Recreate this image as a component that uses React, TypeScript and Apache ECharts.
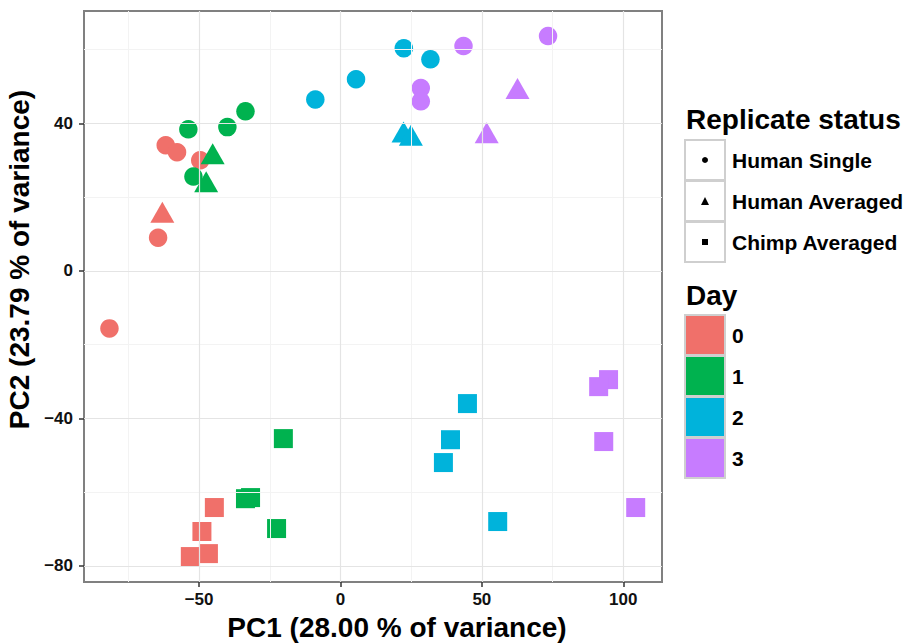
import React, { useEffect, useRef } from "react";
import * as echarts from "echarts";

const days = ["0", "1", "2", "3"];
const dayColors = ["#F0706A", "#00B24F", "#00B3DB", "#C77CFF"];
const shapes = ["Human Single", "Human Averaged", "Chimp Averaged"];

// [PC1, PC2]
const day0Single = [[-61.8, 34.1], [-57.8, 32.2], [-49.6, 30.0], [-64.5, 9.0], [-81.7, -15.6]];
const day0HumanAvg = [[-63.0, 15.9]];
const day0Chimp = [[-44.6, -64.2], [-49.0, -70.7], [-53.1, -77.5], [-46.7, -76.7]];

const day1Single = [[-53.8, 38.4], [-40.0, 39.0], [-33.6, 43.3], [-52.0, 25.6]];
const day1HumanAvg = [[-45.2, 31.8], [-47.5, 24.2]];
const day1Chimp = [[-20.2, -45.5], [-33.6, -61.8], [-31.8, -61.5], [-22.6, -69.9]];

const day2Single = [[-8.9, 46.5], [5.5, 52.0], [22.4, 60.4], [31.8, 57.4]];
const day2HumanAvg = [[22.3, 37.7], [24.9, 36.8]];
const day2Chimp = [[44.9, -36.0], [38.9, -45.8], [36.4, -52.0], [55.6, -68.0]];

const day3Single = [[43.5, 61.0], [73.4, 63.7], [28.4, 49.6], [28.4, 46.0]];
const day3HumanAvg = [[62.6, 49.5], [51.7, 37.5]];
const day3Chimp = [[94.8, -29.5], [91.3, -31.4], [93.1, -46.3], [104.4, -64.2]];

const singleByDay = [day0Single, day1Single, day2Single, day3Single];
const humanAvgByDay = [day0HumanAvg, day1HumanAvg, day2HumanAvg, day3HumanAvg];
const chimpByDay = [day0Chimp, day1Chimp, day2Chimp, day3Chimp];

const xMajor = [-50, 0, 50, 100];
const xMinor = [-75, -25, 25, 75];
const yMajor = [-80, -40, 0, 40];
const yMinor = [-60, -20, 20, 60];

const xTitle = "PC1 (28.00 % of variance)";
const yTitle = "PC2 (23.79 % of variance)";

const FONT = "'Liberation Sans', Arial, Helvetica, sans-serif";

export default function App() {
  const ref = useRef<HTMLDivElement>(null);
  useEffect(() => {
    if (!ref.current) return;
    const chart = echarts.init(ref.current, undefined, { renderer: "svg" });

    const series: any[] = [];
    const gridLine = (arr: number[], axis: "xAxis" | "yAxis", color: string, width: number) =>
      arr.map((v) => ({ [axis]: v, lineStyle: { color, width, type: "solid" } }));

    series.push({
      type: "scatter",
      data: [[0, 0]],
      symbolSize: 0,
      silent: true,
      z: 1,
      markLine: {
        silent: true,
        symbol: ["none", "none"],
        label: { show: false },
        emphasis: { disabled: true },
        data: [
          ...gridLine(xMinor, "xAxis", "#F3F3F3", 1),
          ...gridLine(yMinor, "yAxis", "#F3F3F3", 1),
          ...gridLine(xMajor, "xAxis", "#E4E4E4", 1.2),
          ...gridLine(yMajor, "yAxis", "#E4E4E4", 1.2),
        ],
      },
    });

    days.forEach((d, i) => {
      series.push({
        name: `Day ${d} ${shapes[0]}`,
        type: "scatter",
        data: singleByDay[i],
        symbol: "circle",
        symbolSize: 18.5,
        itemStyle: { color: dayColors[i], opacity: 1 },
        z: 3,
      });
      series.push({
        name: `Day ${d} ${shapes[1]}`,
        type: "scatter",
        data: humanAvgByDay[i],
        symbol: "triangle",
        symbolSize: [24, 21],
        itemStyle: { color: dayColors[i], opacity: 1 },
        z: 3,
      });
      series.push({
        name: `Day ${d} ${shapes[2]}`,
        type: "scatter",
        data: chimpByDay[i],
        symbol: "rect",
        symbolSize: 19,
        itemStyle: { color: dayColors[i], opacity: 1 },
        z: 3,
      });
    });

    const graphic: any[] = [];
    graphic.push({
      type: "text",
      left: 686,
      top: 105,
      style: { text: "Replicate status", font: `bold 28px ${FONT}`, fill: "#000" },
    });
    const keyShapes = [
      { type: "circle", shape: { cx: 705, cy: 160, r: 3 }, style: { fill: "#000" } },
      { type: "polygon", shape: { points: [[705, 197], [709, 205], [701, 205]] }, style: { fill: "#000" } },
      { type: "rect", shape: { x: 702, y: 239, width: 6, height: 6 }, style: { fill: "#000" } },
    ];
    shapes.forEach((s, i) => {
      const y = 140 + i * 41;
      graphic.push({
        type: "rect",
        shape: { x: 685, y, width: 40, height: 40 },
        style: { fill: "#fff", stroke: "#CFCFCF", lineWidth: 2 },
      });
      graphic.push(keyShapes[i]);
      graphic.push({
        type: "text",
        x: 732,
        y: y + 20,
        style: { text: s, font: `bold 21px ${FONT}`, fill: "#000", verticalAlign: "middle" },
      });
    });
    graphic.push({
      type: "text",
      left: 686,
      top: 281,
      style: { text: "Day", font: `bold 28px ${FONT}`, fill: "#000" },
    });
    days.forEach((d, i) => {
      const y = 315 + i * 41;
      graphic.push({
        type: "rect",
        shape: { x: 685, y, width: 40, height: 40 },
        style: { fill: dayColors[i], stroke: "#CFCFCF", lineWidth: 2 },
      });
      graphic.push({
        type: "text",
        x: 732,
        y: y + 20,
        style: { text: d, font: `bold 21px ${FONT}`, fill: "#000", verticalAlign: "middle" },
      });
    });

    chart.setOption({
      animation: false,
      backgroundColor: "#fff",
      grid: {
        left: 84,
        right: 248,
        top: 11,
        bottom: 61,
        outerBoundsMode: "none",
        containLabel: false,
        show: true,
        borderColor: "#808080",
        borderWidth: 2,
        backgroundColor: "#fff",
        z: 0,
      },
      xAxis: {
        type: "value",
        min: -90.7,
        max: 113.7,
        position: "bottom",
        name: xTitle,
        nameLocation: "middle",
        nameGap: 31,
        nameTextStyle: {
          fontFamily: FONT,
          fontWeight: "bold",
          fontSize: 28,
          color: "#000",
          padding: [0, 0, 0, 48],
        },
        axisLine: { show: false, onZero: false },
        splitLine: { show: false },
        axisTick: {
          show: true,
          customValues: xMajor,
          length: 5,
          lineStyle: { color: "#333", width: 1.5 },
        },
        axisLabel: {
          customValues: xMajor,
          margin: 9,
          fontFamily: FONT,
          fontWeight: "bold",
          fontSize: 17,
          color: "#111",
          formatter: (v: number) => (v < 0 ? "\u2212" + Math.abs(v) : String(v)),
        },
      },
      yAxis: {
        type: "value",
        min: -84.4,
        max: 70.5,
        position: "left",
        name: yTitle,
        nameLocation: "middle",
        nameGap: 38,
        nameTextStyle: {
          fontFamily: FONT,
          fontWeight: "bold",
          fontSize: 28,
          color: "#000",
          padding: [0, 0, 0, 74],
        },
        axisLine: { show: false, onZero: false },
        splitLine: { show: false },
        axisTick: {
          show: true,
          customValues: yMajor,
          length: 5,
          lineStyle: { color: "#333", width: 1.5 },
        },
        axisLabel: {
          customValues: yMajor,
          margin: 11,
          fontFamily: FONT,
          fontWeight: "bold",
          fontSize: 17,
          color: "#111",
          formatter: (v: number) => (v < 0 ? "\u2212" + Math.abs(v) : String(v)),
        },
      },
      series,
      graphic,
    });
    return () => chart.dispose();
  }, []);
  return (
    <div
      ref={ref}
      style={{ position: "fixed", left: 0, top: 0, width: 910, height: 643 }}
    />
  );
}
